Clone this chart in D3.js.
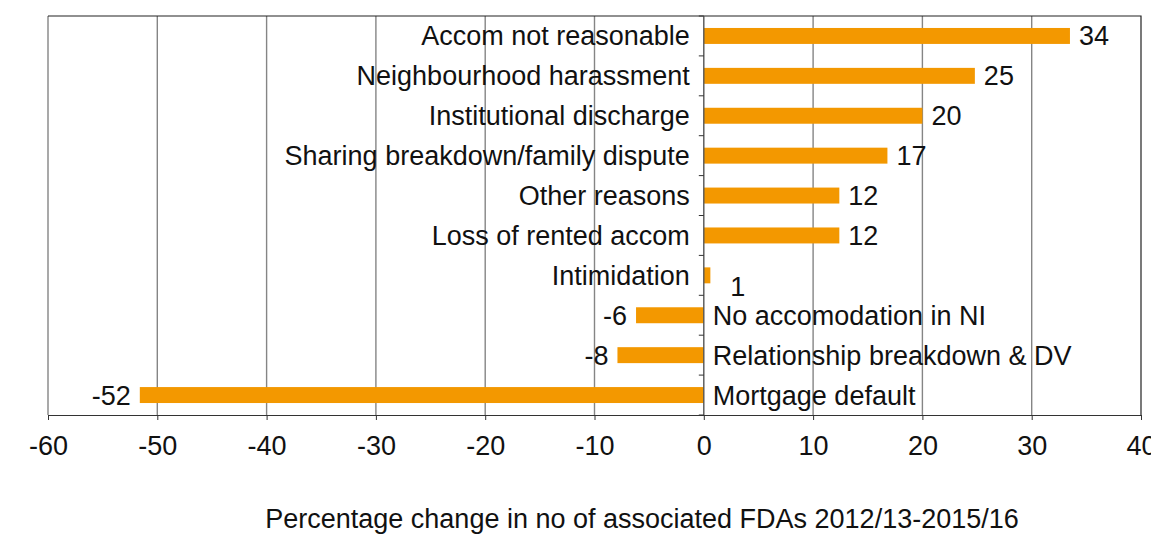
<!DOCTYPE html>
<html>
<head>
<meta charset="utf-8">
<script src="https://cdn.jsdelivr.net/npm/d3@7"></script>
<style>
  html, body { margin: 0; padding: 0; background: #fff; }
</style>
</head>
<body>
<div id="chart"></div>
<script>
const WIDTH = 1151;
const HEIGHT = 534;
const LEFT = 48;
const RIGHT = 1141;
const TOP = 16;
const BOTTOM = 415;
const FONT = '"Liberation Sans", Arial, Helvetica, sans-serif';
const FONT_SIZE = '27px';
const BAR_COLOR = '#f39800';
const GRID_COLOR = '#858585';

// data
const categories = [
	'Accom not reasonable',
	'Neighbourhood harassment',
	'Institutional discharge',
	'Sharing breakdown/family dispute',
	'Other reasons',
	'Loss of rented accom',
	'Intimidation',
	'No accomodation in NI',
	'Relationship breakdown & DV',
	'Mortgage default'
];
const values = [33.5, 24.8, 20.0, 16.8, 12.4, 12.4, 0.6, -6.2, -7.9, -51.6];
const valueLabels = ['34', '25', '20', '17', '12', '12', '1', '-6', '-8', '-52'];
const xTicks = [-60, -50, -40, -30, -20, -10, 0, 10, 20, 30, 40];
const xTitle = 'Percentage change in no of associated FDAs 2012/13-2015/16';

const rows = categories.map((c, i) => ({ cat: c, value: values[i], label: valueLabels[i] }));

const svg = d3.select('#chart')
	.append('svg')
	.attr('width', WIDTH)
	.attr('height', HEIGHT)
	.style('font-family', FONT);

const xScale = d3.scaleLinear()
	.domain([-60, 40])
	.range([LEFT, RIGHT]);
const yScale = d3.scaleBand()
	.domain(categories)
	.range([TOP, BOTTOM])
	.paddingInner(0.6)
	.paddingOuter(0.3);
const step = yScale.step();

// vertical grid lines
svg.append('g')
	.selectAll('line')
	.data(xTicks.filter(t => t !== 0 && t !== 40))
	.enter()
	.append('line')
	.attr('x1', d => xScale(d))
	.attr('x2', d => xScale(d))
	.attr('y1', TOP)
	.attr('y2', BOTTOM)
	.attr('stroke', GRID_COLOR)
	.attr('stroke-width', 1.4);

// top and right border
svg.append('path')
	.attr('d', `M${LEFT},${TOP}H${xScale(40)}V${BOTTOM}`)
	.attr('fill', 'none')
	.attr('stroke', '#222')
	.attr('stroke-width', 1.2);

// bars
svg.append('g')
	.selectAll('rect')
	.data(rows)
	.enter()
	.append('rect')
	.attr('x', d => xScale(Math.min(0, d.value)))
	.attr('width', d => Math.abs(xScale(d.value) - xScale(0)))
	.attr('y', d => yScale(d.cat))
	.attr('height', yScale.bandwidth())
	.attr('fill', BAR_COLOR);

// x axis (plain hyphen minus like the original)
const xAxis = d3.axisBottom(xScale)
	.tickValues(xTicks)
	.tickFormat(d => String(d))
	.tickSize(5)
	.tickSizeOuter(0);
const gx = svg.append('g')
	.attr('transform', `translate(0, ${BOTTOM})`)
	.call(xAxis);
gx.select('.domain').attr('stroke', '#333').attr('stroke-width', 1.2);
gx.selectAll('.tick line').attr('stroke', '#333');
gx.selectAll('.tick text')
	.attr('y', 40)
	.attr('dy', 0)
	.style('font-size', FONT_SIZE)
	.style('font-family', FONT)
	.attr('fill', '#111');

// zero line with ticks between categories
const zeroX = xScale(0);
svg.append('line')
	.attr('x1', zeroX)
	.attr('x2', zeroX)
	.attr('y1', TOP)
	.attr('y2', BOTTOM)
	.attr('stroke', '#555')
	.attr('stroke-width', 1.4);
const boundaries = d3.range(categories.length + 1).map(k => TOP + k * step);
svg.append('g')
	.selectAll('line')
	.data(boundaries)
	.enter()
	.append('line')
	.attr('x1', zeroX - 5)
	.attr('x2', zeroX)
	.attr('y1', d => d)
	.attr('y2', d => d)
	.attr('stroke', '#333');

// category labels: left of zero for positive, right of zero for negative
svg.append('g')
	.selectAll('text')
	.data(rows)
	.enter()
	.append('text')
	.attr('x', d => d.value >= 0 ? zeroX - 14 : zeroX + 9)
	.attr('y', d => yScale(d.cat) + yScale.bandwidth() / 2)
	.attr('dy', '0.35em')
	.style('text-anchor', d => d.value >= 0 ? 'end' : 'start')
	.style('font-size', FONT_SIZE)
	.attr('fill', '#111')
	.text(d => d.cat);

// value labels
svg.append('g')
	.selectAll('text')
	.data(rows)
	.enter()
	.append('text')
	.attr('x', d => {
		if (Math.abs(d.value) < 2) return xScale(d.value) + 20;
		return d.value >= 0 ? xScale(d.value) + 9 : xScale(d.value) - 9;
	})
	.attr('y', d => yScale(d.cat) + yScale.bandwidth() / 2 + (Math.abs(d.value) < 2 ? 11 : 0))
	.attr('dy', '0.35em')
	.style('text-anchor', d => d.value >= 0 ? 'start' : 'end')
	.style('font-size', FONT_SIZE)
	.attr('fill', '#111')
	.text(d => d.label);

// axis title
svg.append('text')
	.attr('x', 642)
	.attr('y', 528)
	.style('text-anchor', 'middle')
	.style('font-size', FONT_SIZE)
	.attr('fill', '#111')
	.text(xTitle);
</script>
</body>
</html>
